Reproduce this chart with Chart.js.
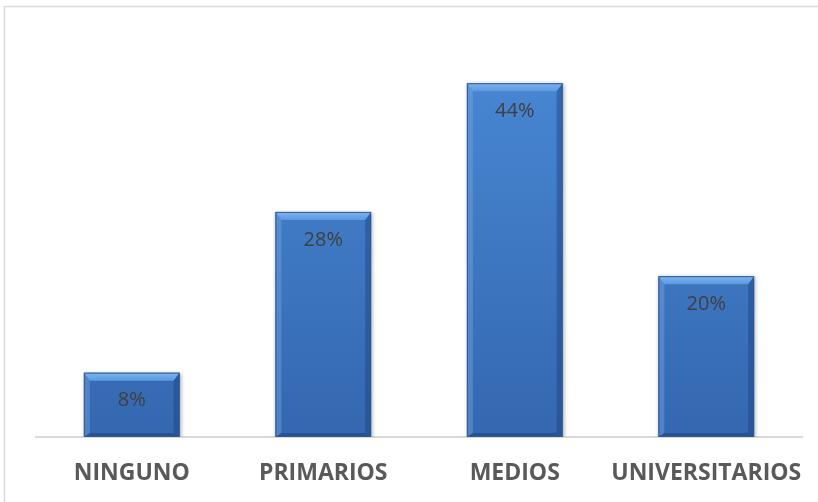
<!DOCTYPE html>
<html>
<head>
<meta charset="utf-8">
<script src="https://cdn.jsdelivr.net/npm/chart.js@4.4.1/dist/chart.umd.min.js"></script>
<style>
  html, body { margin: 0; padding: 0; background: #fff; overflow: hidden; }
  #nivelChart { display: block; }
</style>
</head>
<body>
<canvas id="nivelChart" width="818" height="502"></canvas>
<script>
const categories = ["NINGUNO", "PRIMARIOS", "MEDIOS", "UNIVERSITARIOS"];
const percentages = [8, 28, 44, 20];
const yTicks = [0, 10, 20, 30, 40, 50];

// light grey frame around the whole chart (top and left sides visible)
const framePlugin = {
  id: 'frame',
  beforeDraw(chart) {
    const ctx = chart.ctx;
    ctx.save();
    ctx.strokeStyle = '#d9d9d9';
    ctx.lineWidth = 1.5;
    ctx.beginPath();
    ctx.moveTo(4.5, chart.height);
    ctx.lineTo(4.5, 6.5);
    ctx.lineTo(chart.width, 6.5);
    ctx.stroke();
    ctx.restore();
  }
};

// soft shadow under the bars
const shadowPlugin = {
  id: 'barShadow',
  beforeDatasetsDraw(chart) {
    const ctx = chart.ctx;
    ctx.save();
    ctx.shadowColor = 'rgba(0,0,0,0.35)';
    ctx.shadowBlur = 4;
    ctx.shadowOffsetX = 1;
    ctx.shadowOffsetY = 1;
  },
  afterDatasetsDraw(chart) {
    chart.ctx.restore();
  }
};

// bevelled edges on each bar + the value label inside
const bevelPlugin = {
  id: 'bevel',
  afterDatasetsDraw(chart) {
    const ctx = chart.ctx;
    const meta = chart.getDatasetMeta(0);
    meta.data.forEach((bar, i) => {
      const p = bar.getProps(['x', 'y', 'base', 'width'], true);
      const l = p.x - p.width / 2, r = p.x + p.width / 2;
      const t = p.y, b = p.base;
      const bt = 8, bs = 6, bb = 4;

      ctx.save();
      // top
      let g = ctx.createLinearGradient(0, t, 0, t + bt);
      g.addColorStop(0, '#7fb5f0');
      g.addColorStop(1, '#5b99e0');
      ctx.fillStyle = g;
      ctx.beginPath();
      ctx.moveTo(l, t); ctx.lineTo(r, t); ctx.lineTo(r - bs, t + bt); ctx.lineTo(l + bs, t + bt);
      ctx.closePath(); ctx.fill();
      // left
      ctx.fillStyle = 'rgba(120,170,230,0.4)';
      ctx.beginPath();
      ctx.moveTo(l, t); ctx.lineTo(l + bs, t + bt); ctx.lineTo(l + bs, b - bb); ctx.lineTo(l, b);
      ctx.closePath(); ctx.fill();
      // right
      ctx.fillStyle = 'rgba(25,60,115,0.4)';
      ctx.beginPath();
      ctx.moveTo(r, t); ctx.lineTo(r - bs, t + bt); ctx.lineTo(r - bs, b - bb); ctx.lineTo(r, b);
      ctx.closePath(); ctx.fill();
      // bottom
      ctx.fillStyle = 'rgba(25,60,115,0.45)';
      ctx.beginPath();
      ctx.moveTo(l, b); ctx.lineTo(l + bs, b - bb); ctx.lineTo(r - bs, b - bb); ctx.lineTo(r, b);
      ctx.closePath(); ctx.fill();
      // outline
      ctx.strokeStyle = '#2b5a94';
      ctx.lineWidth = 1;
      ctx.strokeRect(l + 0.5, t + 0.5, p.width - 1, b - t - 1);

      // value label
      ctx.fillStyle = '#404040';
      ctx.font = '20px "Open Sans"';
      ctx.textAlign = 'center';
      ctx.textBaseline = 'middle';
      ctx.fillText(percentages[i] + '%', p.x, t + 28);
      ctx.restore();
    });
  }
};

const ctx = document.getElementById('nivelChart');
new Chart(ctx, {
  type: 'bar',
  data: {
    labels: categories,
    datasets: [{
      data: percentages,
      backgroundColor: function(c) {
        const area = c.chart.chartArea;
        if (!area) return '#3f7fcb';
        const g = c.chart.ctx.createLinearGradient(0, area.top, 0, area.bottom);
        g.addColorStop(0, '#4a8ad6');
        g.addColorStop(1, '#3467b0');
        return g;
      },
      borderWidth: 0,
      barPercentage: 0.5,
      categoryPercentage: 1
    }]
  },
  options: {
    responsive: false,
    animation: false,
    devicePixelRatio: 1,
    layout: { padding: { left: 36, right: 16, top: 35, bottom: 0 } },
    plugins: {
      legend: { display: false },
      tooltip: { enabled: false }
    },
    scales: {
      x: {
        grid: { display: false, drawTicks: false },
        border: { display: true, color: '#d9d9d9', width: 2 },
        ticks: {
          color: '#595959',
          padding: 23,
          maxRotation: 0,
          autoSkip: false,
          font: { family: '"Open Sans"', weight: 'bold', size: 23 }
        },
        afterFit(scale) {
          scale.height = 65;
          // long last label should not shrink the plot area
          scale.paddingLeft = 0;
          scale.paddingRight = 0;
        }
      },
      y: {
        display: false,
        min: yTicks[0],
        max: yTicks[yTicks.length - 1],
        ticks: { stepSize: 10 }
      }
    }
  },
  plugins: [framePlugin, shadowPlugin, bevelPlugin]
});
</script>
</body>
</html>
